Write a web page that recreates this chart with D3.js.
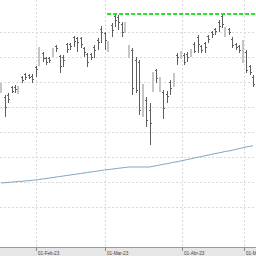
<!DOCTYPE html>
<html>
<head>
<meta charset="utf-8">
<script src="https://cdn.jsdelivr.net/npm/d3@7"></script>
<style>
  html, body { margin: 0; padding: 0; background: #fff; }
  svg { display: block; }
</style>
</head>
<body>
<div id="chart"></div>
<script>
// trading days (BME calendar)
const dates = [
  "2023-01-18","2023-01-19","2023-01-20","2023-01-23","2023-01-24","2023-01-25","2023-01-26","2023-01-27","2023-01-30","2023-01-31",
  "2023-02-01","2023-02-02","2023-02-03","2023-02-06","2023-02-07","2023-02-08","2023-02-09","2023-02-10","2023-02-13","2023-02-14",
  "2023-02-15","2023-02-16","2023-02-17","2023-02-20","2023-02-21","2023-02-22","2023-02-23","2023-02-24","2023-02-27","2023-02-28",
  "2023-03-01","2023-03-02","2023-03-03","2023-03-06","2023-03-07","2023-03-08","2023-03-09","2023-03-10","2023-03-13","2023-03-14",
  "2023-03-15","2023-03-16","2023-03-17","2023-03-20","2023-03-21","2023-03-22","2023-03-23","2023-03-24","2023-03-27","2023-03-28",
  "2023-03-29","2023-03-30","2023-03-31",
  "2023-04-03","2023-04-04","2023-04-05","2023-04-06","2023-04-11","2023-04-12","2023-04-13","2023-04-14","2023-04-17","2023-04-18",
  "2023-04-19","2023-04-20","2023-04-21","2023-04-24","2023-04-25","2023-04-26","2023-04-27","2023-04-28",
  "2023-05-02","2023-05-03","2023-05-04"
];

const open = [
  8928,8880,8896,8960,8960,8920,9040,9064,9056,9048,
  9120,9144,9232,9192,9192,9208,9288,9208,9200,9304,
  9304,9360,9352,9352,9272,9224,9224,9280,9336,9424,
  9392,9256,9456,9528,9520,9464,9408,9208,9256,9176,
  9160,8760,8856,8776,8952,9096,8936,8920,8904,9000,
  8976,9216,9200,
  9216,9224,9216,9304,9360,9288,9312,9368,9400,9424,
  9480,9528,9376,9424,9344,9304,9288,9176,
  9240,9128,9040
];
const high = [
  8992,8896,8912,8968,8976,8968,9048,9072,9064,9064,
  9128,9280,9240,9200,9200,9272,9296,9216,9216,9312,
  9312,9368,9360,9360,9280,9232,9232,9296,9352,9448,
  9400,9328,9472,9544,9536,9480,9480,9296,9272,9200,
  9176,8984,8880,8832,9080,9104,9040,8936,8928,9016,
  9072,9232,9248,
  9232,9240,9264,9320,9376,9296,9320,9376,9408,9432,
  9496,9544,9440,9432,9360,9312,9296,9336,
  9256,9136,9056
];
const low = [
  8912,8720,8832,8912,8912,8904,8992,9016,9024,8992,
  9040,9128,9160,9136,9152,9200,9240,9072,9120,9232,
  9256,9280,9240,9272,9200,9120,9176,9192,9256,9312,
  9256,9240,9360,9440,9416,9360,9392,9192,8896,8912,
  8736,8720,8640,8496,8920,8992,8920,8704,8832,8896,
  8960,9136,9184,
  9136,9160,9200,9232,9232,9232,9232,9312,9352,9376,
  9400,9432,9360,9376,9272,9256,9232,9152,
  9072,9056,8960
];
const close = [
  8976,8800,8864,8928,8944,8960,9016,9040,9040,9024,
  9104,9264,9192,9160,9176,9256,9272,9128,9176,9264,
  9288,9328,9320,9304,9240,9160,9200,9256,9320,9400,
  9336,9312,9416,9496,9480,9400,9448,9272,8952,8936,
  8776,8952,8696,8672,9056,9032,9016,8792,8888,8952,
  9056,9200,9232,
  9160,9200,9248,9248,9304,9256,9280,9344,9384,9408,
  9448,9464,9424,9400,9296,9280,9256,9312,
  9096,9080,8984
];
// long moving average
const ma = [
  8192,8194,8197,8199,8202,8204,8206,8209,8211,8214,
  8216,8220,8224,8228,8232,8236,8240,8244,8248,8252,
  8256,8260,8264,8268,8272,8276,8280,8284,8288,8292,
  8296,8299,8303,8306,8310,8313,8317,8320,8320,8320,
  8320,8320,8320,8320,8326,8330,8336,8342,8346,8352,
  8358,8362,8368,
  8374,8380,8386,8392,8398,8403,8410,8415,8421,8427,
  8433,8438,8445,8448,8454,8461,8467,8474,
  8480,8485,8490
];

const yTicks = [8000, 8200, 8400, 8600, 8800, 9000, 9200, 9400];
const monthTicks = ["2023-02-01", "2023-03-01", "2023-04-01", "2023-05-01"];
const monthLabels = ["01-Feb-23", "01-Mar-23", "01-Abr-23", "01-May-23"];
const resistanceFrom = "2023-03-02";

const width = 256, height = 256, axisY = 247;

const svg = d3.select("#chart")
  .append("svg")
    .attr("width", width)
    .attr("height", height);

const x = d3.scaleLinear()
  .domain([0, dates.length - 1])
  .range([1.2, 253]);

const y = d3.scaleLinear()
  .domain([7680, 9656])
  .range([axisY, 0]);

// month ticks sit between bars when the 1st is not a trading day
function tickPos(d) {
  const i = dates.indexOf(d);
  if (i >= 0) return x(i);
  const next = dates.findIndex(v => v > d);
  return x(next - 0.5);
}

// grid
svg.append("g")
  .selectAll("line")
  .data(yTicks)
  .join("line")
    .attr("x1", 0)
    .attr("x2", width)
    .attr("y1", d => Math.round(y(d)) + 0.5)
    .attr("y2", d => Math.round(y(d)) + 0.5)
    .attr("stroke", "#d9d9d9")
    .attr("stroke-dasharray", "2,2");

svg.append("g")
  .selectAll("line")
  .data(monthTicks)
  .join("line")
    .attr("x1", d => Math.round(tickPos(d)) + 0.5)
    .attr("x2", d => Math.round(tickPos(d)) + 0.5)
    .attr("y1", 0)
    .attr("y2", axisY)
    .attr("stroke", "#d9d9d9")
    .attr("stroke-dasharray", "2,2");

// moving average
svg.append("path")
  .datum(ma)
  .attr("fill", "none")
  .attr("stroke", "#7ea6c1")
  .attr("stroke-width", 1)
  .attr("d", d3.line().x((d, i) => x(i)).y(d => y(d)));

// bars
const bars = svg.append("g")
  .attr("shape-rendering", "crispEdges")
  .selectAll("g")
  .data(dates.map((d, i) => ({i, o: open[i], h: high[i], l: low[i], c: close[i]})))
  .join("g");

bars.filter(d => d.c >= d.o)
  .append("rect")
    .attr("x", d => Math.round(x(d.i)) - 1)
    .attr("width", 2)
    .attr("y", d => y(d.h))
    .attr("height", d => y(d.l) - y(d.h))
    .attr("fill", "#c6c6c6");

const down = bars.filter(d => d.c < d.o);
down.append("line")
  .attr("x1", d => Math.round(x(d.i)) + 0.5)
  .attr("x2", d => Math.round(x(d.i)) + 0.5)
  .attr("y1", d => y(d.h))
  .attr("y2", d => y(d.l))
  .attr("stroke", "#5e5e5e");
down.append("line")
  .attr("x1", d => Math.round(x(d.i)) - 1)
  .attr("x2", d => Math.round(x(d.i)))
  .attr("y1", d => Math.round(y(d.o)) + 0.5)
  .attr("y2", d => Math.round(y(d.o)) + 0.5)
  .attr("stroke", "#5e5e5e");
down.append("line")
  .attr("x1", d => Math.round(x(d.i)) + 1)
  .attr("x2", d => Math.round(x(d.i)) + 2)
  .attr("y1", d => Math.round(y(d.c)) + 0.5)
  .attr("y2", d => Math.round(y(d.c)) + 0.5)
  .attr("stroke", "#5e5e5e");

// resistance at the highest high
const maxHigh = d3.max(high);
svg.append("line")
  .attr("x1", x(dates.indexOf(resistanceFrom)) - 1)
  .attr("x2", width)
  .attr("y1", y(maxHigh))
  .attr("y2", y(maxHigh))
  .attr("stroke", "#2edc2e")
  .attr("stroke-width", 2)
  .attr("stroke-dasharray", "4,2");

// x axis strip
svg.append("rect")
  .attr("x", 0)
  .attr("y", axisY + 1)
  .attr("width", width)
  .attr("height", height - axisY - 1)
  .attr("fill", "#e6e6e6");

svg.append("line")
  .attr("x1", 0)
  .attr("x2", width)
  .attr("y1", axisY + 0.5)
  .attr("y2", axisY + 0.5)
  .attr("stroke", "#9a9a9a");

const ticks = svg.append("g")
  .selectAll("g")
  .data(monthTicks)
  .join("g")
    .attr("transform", d => `translate(${Math.round(tickPos(d)) + 0.5},${axisY})`);

ticks.append("line")
  .attr("y1", 0)
  .attr("y2", 4)
  .attr("stroke", "#8a8a8a");

ticks.append("text")
  .attr("x", 1.5)
  .attr("y", 7.8)
  .style("font-family", "Arial, 'Liberation Sans', sans-serif")
  .style("font-size", "4.6px")
  .style("fill", "#444")
  .text((d, i) => monthLabels[i]);
</script>
</body>
</html>
